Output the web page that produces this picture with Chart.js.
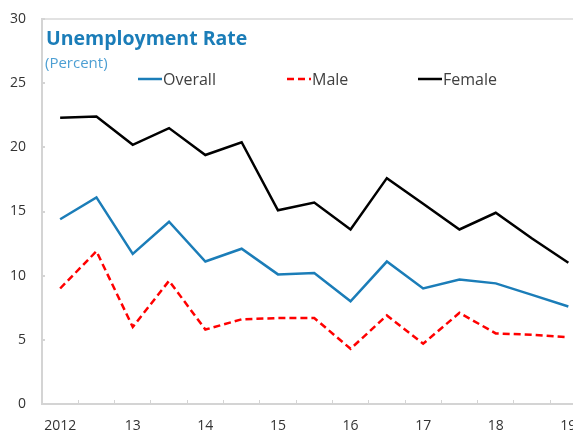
<!DOCTYPE html>
<html>
<head>
<meta charset="utf-8">
<script src="https://cdn.jsdelivr.net/npm/chart.js@4.4.1/dist/chart.umd.min.js"></script>
<style>
  html, body { margin: 0; padding: 0; background: #fff; overflow: hidden; }
  #wrap { width: 573px; height: 435px; overflow: hidden; }
</style>
</head>
<body>
<div id="wrap"><canvas id="chart" width="600" height="435"></canvas></div>
<script>
// Data (semiannual, 2012 to 2019)
const periods = ["2012", "", "13", "", "14", "", "15", "", "16", "", "17", "", "18", "", "19"];
const overall = [14.4, 16.1, 11.7, 14.2, 11.1, 12.1, 10.1, 10.2, 8.0, 11.1, 9.0, 9.7, 9.4, 8.5, 7.6];
const male = [9.0, 11.9, 6.0, 9.6, 5.8, 6.6, 6.7, 6.7, 4.3, 6.9, 4.7, 7.1, 5.5, 5.4, 5.2];
const female = [22.3, 22.4, 20.2, 21.5, 19.4, 20.4, 15.1, 15.7, 13.6, 17.6, 15.6, 13.6, 14.9, 12.9, 11.0];
const yTicks = [0, 5, 10, 15, 20, 25, 30];

const FONT = "'Open Sans', 'Liberation Sans', sans-serif";
const BLUE = "#1b7db8";
const AXIS = "#d4d4d4";

// Title, subtitle and legend drawn inside the plot area
const headerPlugin = {
  id: "header",
  afterDraw(chart) {
    const c = chart.ctx;
    c.save();
    c.textBaseline = "middle";
    c.textAlign = "left";
    c.fillStyle = BLUE;
    c.font = "bold 19.5px " + FONT;
    c.fillText("Unemployment Rate", 46, 39);
    c.fillStyle = "#4d9fd3";
    c.font = "15px " + FONT;
    c.fillText("(Percent)", 45, 64);

    const legendX = [138, 287, 418];
    chart.data.datasets.forEach((ds, i) => {
      const x = legendX[i], y = 79;
      c.strokeStyle = ds.borderColor;
      c.lineWidth = 2.5;
      c.setLineDash(ds.borderDash || []);
      c.beginPath();
      c.moveTo(x, y);
      c.lineTo(x + 24, y);
      c.stroke();
      c.setLineDash([]);
      c.fillStyle = "#404040";
      c.font = "16px " + FONT;
      c.fillText(ds.label, x + 25, y + 1);
    });
    c.restore();
  }
};

new Chart(document.getElementById("chart"), {
  type: "line",
  data: {
    labels: periods,
    datasets: [
      { label: "Overall", data: overall, borderColor: BLUE, borderWidth: 2.5 },
      { label: "Male", data: male, borderColor: "#ff0000", borderWidth: 2.5, borderDash: [7, 4] },
      { label: "Female", data: female, borderColor: "#000000", borderWidth: 2.5 }
    ]
  },
  options: {
    responsive: false,
    animation: false,
    layout: { padding: { top: 19, right: 13.5, left: 0, bottom: 0 } },
    elements: { point: { radius: 0 }, line: { tension: 0, fill: false } },
    plugins: { legend: { display: false }, tooltip: { enabled: false } },
    scales: {
      x: {
        type: "category",
        offset: true,
        grid: { offset: true, drawOnChartArea: false, tickLength: -4, tickColor: AXIS },
        border: { color: AXIS, width: 2 },
        ticks: { autoSkip: false, maxRotation: 0, padding: 18, color: "#333", font: { family: FONT, size: 14 } },
        afterFit: s => { s.height = 31; s.paddingLeft = 0; s.paddingRight = 0; }
      },
      y: {
        min: 0,
        max: 30,
        afterBuildTicks: s => { s.ticks = yTicks.map(v => ({ value: v })); },
        grid: {
          color: ctx => (ctx.tick && ctx.tick.value === 30 ? "#e2e2e2" : "transparent"),
          lineWidth: 2,
          tickLength: -3,
          tickColor: AXIS
        },
        border: { color: AXIS, width: 2 },
        ticks: { padding: 19, color: "#333", font: { family: FONT, size: 14 } },
        afterFit: s => { s.width = 42; s.paddingTop = 0; s.paddingBottom = 0; }
      }
    }
  },
  plugins: [headerPlugin]
});
</script>
</body>
</html>
